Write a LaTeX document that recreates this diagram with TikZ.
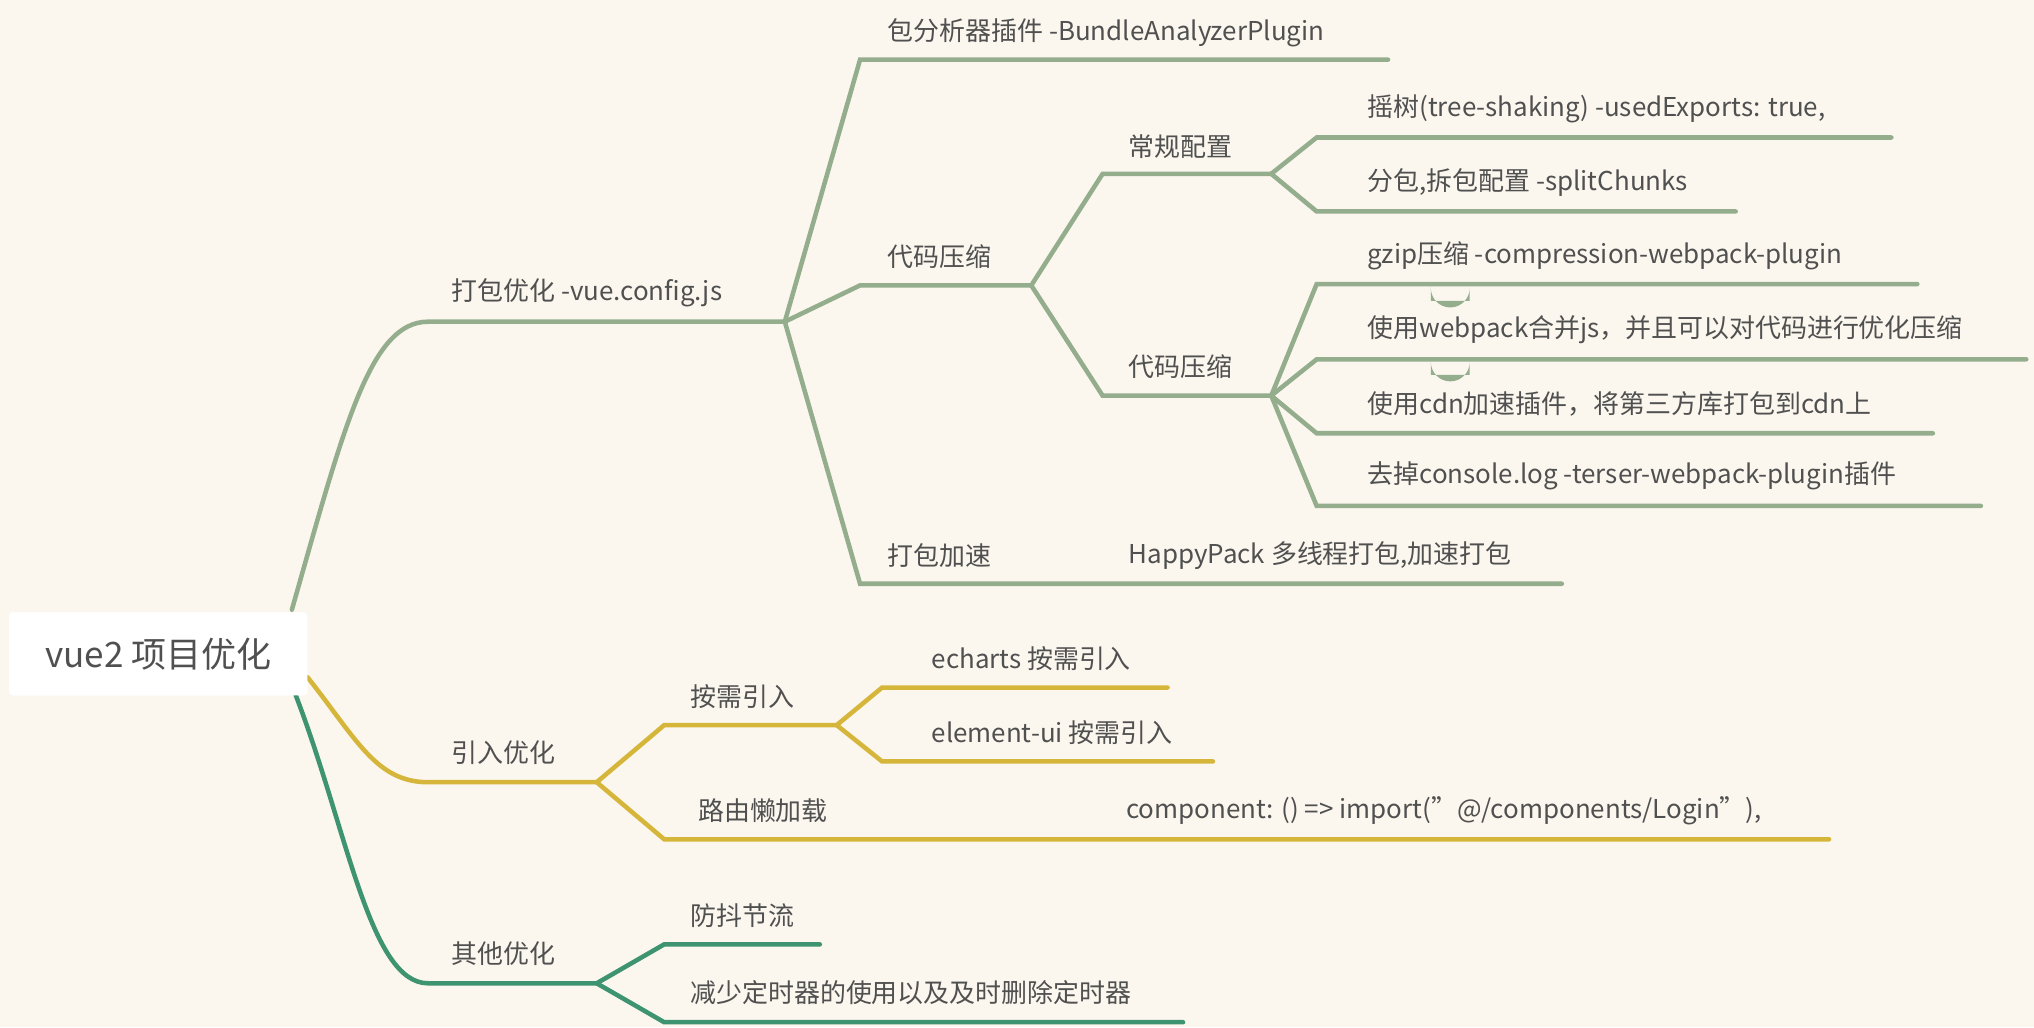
\documentclass[tikz,border=0pt]{standalone}
\usepackage{fontspec}
\setmainfont{Noto Sans CJK SC}
\definecolor{bg}{HTML}{FBF7EE}
\definecolor{ga}{HTML}{94AD8C}
\definecolor{ya}{HTML}{D6B63A}
\definecolor{gb}{HTML}{3E9470}
\definecolor{tx}{HTML}{505050}
\begin{document}
\begin{tikzpicture}[x=1pt,y=-1pt,
  lbl/.style={anchor=west,inner sep=0pt,text=tx,font=\fontsize{20}{24}\selectfont},
  br/.style={line width=3.5pt,line cap=round}]
\fill[bg] (0,0) rectangle (1568,792);
\useasboundingbox (0,0) rectangle (1568,792);
% branch coordinate helper: curve from (a) to (b)
\newcommand{\cv}[4]{\draw[br,#1] (#2) .. controls ($(#2)!0.5!(#3)$ |- #2) and ($(#2)!0.5!(#3)$ |- #3) .. (#3) -- (#4);}
\usetikzlibrary{calc}
% root
\node[fill=white,rounded corners=3pt,minimum width=230pt,minimum height=64pt,text=tx,font=\fontsize{27}{30}\selectfont] (root) at (122,504) {vue2 项目优化};
% branch 1
\coordinate (r1) at (225,470); \coordinate (a0) at (330,248); \coordinate (a1) at (605,248);
\draw[br,ga] (r1) .. controls (265,330) and (285,248) .. (a0) -- (a1);
\node[lbl] (t1) at (348,226) {打包优化 -vue.config.js};
\coordinate (b0) at (663,46); \coordinate (b1) at (1070,46);
\cv{ga}{a1}{b0}{b1}
\node[lbl] (t11) at (684,25) {包分析器插件 -BundleAnalyzerPlugin};
\coordinate (c0) at (663,220); \coordinate (c1) at (795,220);
\cv{ga}{a1}{c0}{c1}
\node[lbl] (t12) at (684,198) {代码压缩};
\coordinate (d0) at (663,450); \coordinate (d1) at (1204,450);
\cv{ga}{a1}{d0}{d1}
\node[lbl] (t13) at (684,428) {打包加速};
\node[lbl] (t131) at (870,428) {HappyPack 多线程打包,加速打包};
\coordinate (e0) at (850,134); \coordinate (e1) at (980,134);
\cv{ga}{c1}{e0}{e1}
\node[lbl] (t121) at (870,113) {常规配置};
\coordinate (f0) at (850,305); \coordinate (f1) at (980,305);
\cv{ga}{c1}{f0}{f1}
\node[lbl] (t122) at (870,283) {代码压缩};
\coordinate (g0) at (1015,106); \coordinate (g1) at (1458,106); \cv{ga}{e1}{g0}{g1}
\node[lbl] at (1054,84) {摇树(tree-shaking) -usedExports: true,};
\coordinate (h0) at (1015,163); \coordinate (h1) at (1338,163); \cv{ga}{e1}{h0}{h1}
\node[lbl] at (1054,141) {分包,拆包配置 -splitChunks};
\coordinate (i0) at (1015,219); \coordinate (i1) at (1478,219); \cv{ga}{f1}{i0}{i1}
\node[lbl] at (1054,197) {gzip压缩 -compression-webpack-plugin};
\coordinate (j0) at (1015,277); \coordinate (j1) at (1562,277); \cv{ga}{f1}{j0}{j1}
\node[lbl] at (1054,254) {使用webpack合并js，并且可以对代码进行优化压缩};
\coordinate (k0) at (1015,334); \coordinate (k1) at (1490,334); \cv{ga}{f1}{k0}{k1}
\node[lbl] at (1054,311) {使用cdn加速插件，将第三方库打包到cdn上};
\coordinate (l0) at (1015,390); \coordinate (l1) at (1527,390); \cv{ga}{f1}{l0}{l1}
\node[lbl] at (1054,367) {去掉console.log -terser-webpack-plugin插件};
\fill[ga] (1103,221) -- (1103,222) arc[start angle=180,end angle=0,radius=15] -- (1133,232) -- (1103,232) -- cycle;
\fill[ga] (1103,279) arc[start angle=180,end angle=0,radius=15] -- (1133,289) -- (1103,289) -- cycle;
% branch 2
\coordinate (r2) at (237,522); \coordinate (m0) at (330,603); \coordinate (m1) at (460,603);
\draw[br,ya] (r2) .. controls (275,570) and (290,603) .. (m0) -- (m1);
\node[lbl] at (348,580) {引入优化};
\coordinate (n0) at (512,559); \coordinate (n1) at (645,559); \cv{ya}{m1}{n0}{n1}
\node[lbl] at (532,537) {按需引入};
\coordinate (o0) at (512,647); \coordinate (o1) at (1410,647); \cv{ya}{m1}{o0}{o1}
\node[lbl] at (538,625) {路由懒加载};
\node[lbl] at (868,625) {component: () => import("@/components/Login"),};
\coordinate (p0) at (680,530); \coordinate (p1) at (900,530); \cv{ya}{n1}{p0}{p1}
\node[lbl] at (718,508) {echarts 按需引入};
\coordinate (q0) at (680,587); \coordinate (q1) at (935,587); \cv{ya}{n1}{q0}{q1}
\node[lbl] at (718,565) {element-ui 按需引入};
% branch 3
\coordinate (r3) at (228,536); \coordinate (s0) at (330,758); \coordinate (s1) at (460,758);
\draw[br,gb] (r3) .. controls (268,640) and (285,758) .. (s0) -- (s1);
\node[lbl] at (348,735) {其他优化};
\coordinate (u0) at (512,728); \coordinate (u1) at (632,728); \cv{gb}{s1}{u0}{u1}
\node[lbl] at (532,706) {防抖节流};
\coordinate (v0) at (512,788); \coordinate (v1) at (912,788); \cv{gb}{s1}{v0}{v1}
\node[lbl] at (532,765) {减少定时器的使用以及及时删除定时器};
\node[fill=white,rounded corners=3pt,minimum width=230pt,minimum height=64pt,text=tx,font=\fontsize{27}{30}\selectfont] at (122,504) {vue2 项目优化};
\end{tikzpicture}
\end{document}
